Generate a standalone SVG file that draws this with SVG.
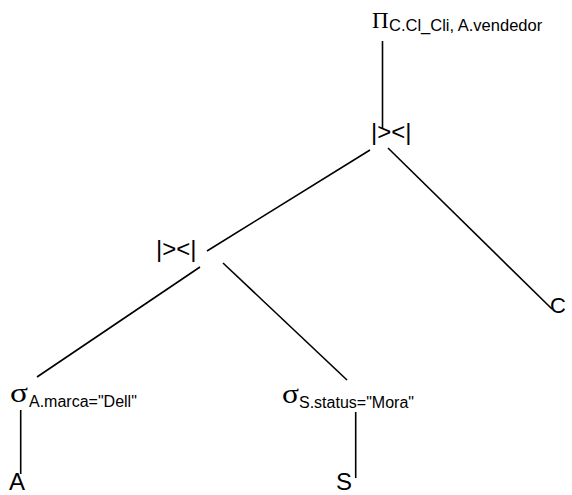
<svg xmlns="http://www.w3.org/2000/svg" width="572" height="495" viewBox="0 0 572 495">
<style>
.g{font-family:"Liberation Serif","Times New Roman",serif;fill:#000}
.s{font-family:"Liberation Sans",Arial,sans-serif;fill:#000}
.e{stroke:#000;stroke-width:1.6;fill:none}
</style>
<rect width="572" height="495" fill="#fff"/>
<g id="connectors">
<line class="e" x1="382.5" y1="41" x2="382.5" y2="128"/>
<line class="e" x1="370" y1="150" x2="207" y2="251"/>
<line class="e" x1="388" y1="148" x2="552" y2="309"/>
<line class="e" x1="200" y1="267" x2="37" y2="377"/>
<line class="e" x1="223" y1="263" x2="347" y2="380"/>
<line class="e" x1="20.7" y1="410" x2="20.7" y2="474"/>
<line class="e" x1="355.7" y1="412" x2="355.7" y2="478"/>
</g>
<g id="proj">
<text class="g" x="372" y="28" font-size="23">Π</text>
<text class="s" x="389" y="31" font-size="16.5">C.Cl_Cli, A.vendedor</text>
</g>
<g id="join1"><text class="s" x="371" y="140" font-size="24">|&gt;&lt;|</text></g>
<g id="join2"><text class="s" x="156" y="257" font-size="24">|&gt;&lt;|</text></g>
<g id="sel1">
<text class="g" x="10" y="402" font-size="27" textLength="18" lengthAdjust="spacingAndGlyphs">σ</text>
<text class="s" x="29" y="407" font-size="16">A.marca="Dell"</text>
</g>
<g id="sel2">
<text class="g" x="282" y="403" font-size="27" textLength="17" lengthAdjust="spacingAndGlyphs">σ</text>
<text class="s" x="299" y="408" font-size="16">S.status="Mora"</text>
</g>
<g id="A"><text class="s" x="9" y="490" font-size="24">A</text></g>
<g id="S"><text class="s" x="336" y="490" font-size="24">S</text></g>
<g id="C"><text class="s" x="550" y="313" font-size="22">C</text></g>
</svg>
